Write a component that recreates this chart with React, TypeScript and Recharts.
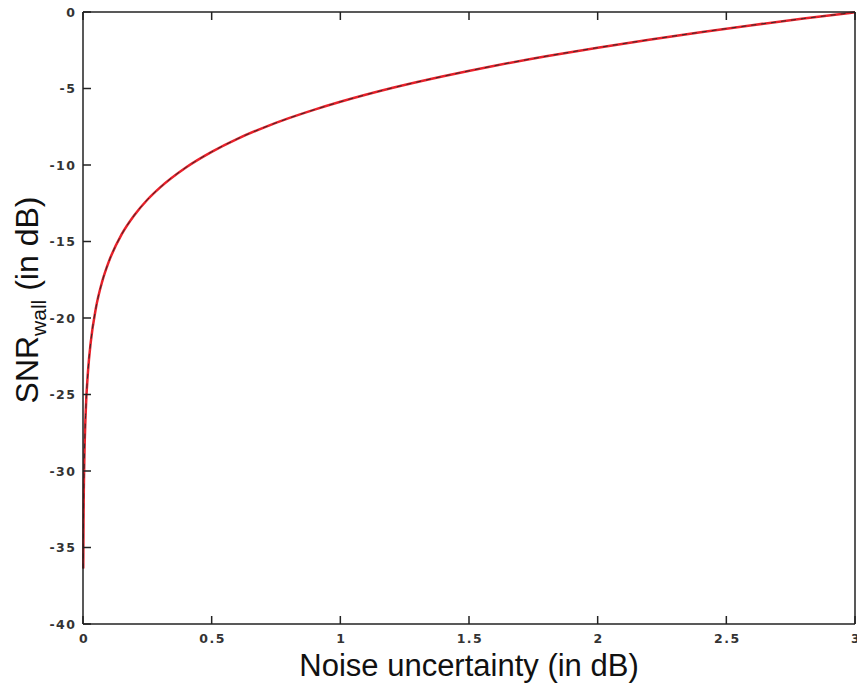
import React from "react";
import { LineChart, Line, XAxis, YAxis } from "recharts";

// noise uncertainty (dB) and the SNR wall (dB)
const noiseUncertainty = [
  0.001, 0.002, 0.005, 0.01, 0.02, 0.03, 0.05, 0.075, 0.1, 0.15, 0.2, 0.25,
  0.3, 0.4, 0.5, 0.6, 0.7, 0.8, 0.9, 1.0, 1.2, 1.4, 1.6, 1.8, 2.0, 2.2, 2.4,
  2.6, 2.8, 3.0,
];
const snrWall = [
  -36.38, -33.37, -29.39, -26.37, -23.36, -21.59, -19.36, -17.59, -16.33,
  -14.54, -13.27, -12.27, -11.46, -10.16, -9.14, -8.29, -7.57, -6.94, -6.38,
  -5.87, -4.97, -4.2, -3.51, -2.89, -2.33, -1.81, -1.32, -0.86, -0.43, -0.02,
];
const xTicks = [0, 0.5, 1, 1.5, 2, 2.5, 3];
const yTicks = [0, -5, -10, -15, -20, -25, -30, -35, -40];

const data = noiseUncertainty.map((x, i) => ({ x, snr: snrWall[i] }));

const FONT = "'Liberation Sans', Arial, Helvetica, sans-serif";
const TICK_FONT = "'DejaVu Sans', sans-serif";
const AXIS = "#222";
const TICK_LEN = 8;
const MARGIN_Y = 8;
const MARGIN_X = 6;

// MATLAB style: tick marks point into the plot
const LeftTick = ({ x, y, payload }: any) => (
  <g>
    <line x1={x + MARGIN_Y} x2={x + MARGIN_Y + TICK_LEN} y1={y} y2={y} stroke={AXIS} strokeWidth={1.5} />
    <text x={x + 1.5} y={y} dy="0.36em" textAnchor="end" fontSize={12.5} fontWeight="bold" letterSpacing={1.5} fontFamily={TICK_FONT} fill="#333">
      {payload.value}
    </text>
  </g>
);

const BottomTick = ({ x, y, payload }: any) => (
  <g>
    <line x1={x} x2={x} y1={y - MARGIN_X} y2={y - MARGIN_X - TICK_LEN} stroke={AXIS} strokeWidth={1.5} />
    <text x={x + 1} y={y} dy="1em" textAnchor="middle" fontSize={12.5} fontWeight="bold" letterSpacing={1.5} fontFamily={TICK_FONT} fill="#333">
      {payload.value}
    </text>
  </g>
);

const TopTick = ({ x, y }: any) => (
  <line x1={x} x2={x} y1={y} y2={y + TICK_LEN} stroke={AXIS} strokeWidth={1.5} />
);

const RightTick = ({ x, y }: any) => (
  <line x1={x} x2={x - TICK_LEN} y1={y} y2={y} stroke={AXIS} strokeWidth={1.5} />
);

const YLabel = ({ viewBox }: any) => {
  const cx = 38;
  const cy = viewBox ? viewBox.y + viewBox.height / 2 - 18 : 300;
  return (
    <text
      x={cx}
      y={cy}
      transform={`rotate(-90, ${cx}, ${cy})`}
      textAnchor="middle"
      fontFamily={FONT}
      fontSize={32}
      fill="#111"
    >
      SNR
      <tspan fontSize={21} dy={8}>
        wall
      </tspan>
      <tspan dy={-8}> (in dB)</tspan>
    </text>
  );
};

export default function App() {
  return (
    <div style={{ position: "absolute", left: 0, top: 0, background: "#fff" }}>
      <LineChart
        width={857}
        height={683}
        data={data}
        margin={{ top: 11, right: 1, left: 0, bottom: 0 }}
      >
        <XAxis
          dataKey="x"
          type="number"
          domain={[0, 3]}
          ticks={xTicks}
          height={59}
          tickSize={0}
          tickMargin={MARGIN_X}
          interval={0}
          stroke={AXIS}
          strokeWidth={1.5}
          tick={<BottomTick />}
          label={{
            value: "Noise uncertainty (in dB)",
            position: "insideBottom",
            offset: 7,
            fontSize: 31,
            fontFamily: FONT,
            fill: "#111",
          }}
        />
        <XAxis
          xAxisId="top"
          orientation="top"
          dataKey="x"
          type="number"
          domain={[0, 3]}
          ticks={xTicks}
          height={1}
          tickSize={0}
          tickMargin={0}
          interval={0}
          stroke={AXIS}
          strokeWidth={1.5}
          tick={<TopTick />}
        />
        <YAxis
          type="number"
          domain={[-40, 0]}
          ticks={yTicks}
          width={83}
          tickSize={0}
          tickMargin={MARGIN_Y}
          interval={0}
          stroke={AXIS}
          strokeWidth={1.5}
          tick={<LeftTick />}
          label={<YLabel />}
        />
        <YAxis
          yAxisId="right"
          orientation="right"
          type="number"
          domain={[-40, 0]}
          ticks={yTicks}
          width={1}
          tickSize={0}
          tickMargin={0}
          interval={0}
          stroke={AXIS}
          strokeWidth={1.5}
          tick={<RightTick />}
        />
        <Line
          dataKey="snr"
          type="monotone"
          stroke="#e8202a"
          strokeWidth={2.5}
          dot={false}
          isAnimationActive={false}
        />
        <Line
          dataKey="snr"
          type="monotone"
          stroke="#3a2a2a"
          strokeWidth={1}
          strokeDasharray="5 5"
          dot={false}
          isAnimationActive={false}
        />
      </LineChart>
    </div>
  );
}
